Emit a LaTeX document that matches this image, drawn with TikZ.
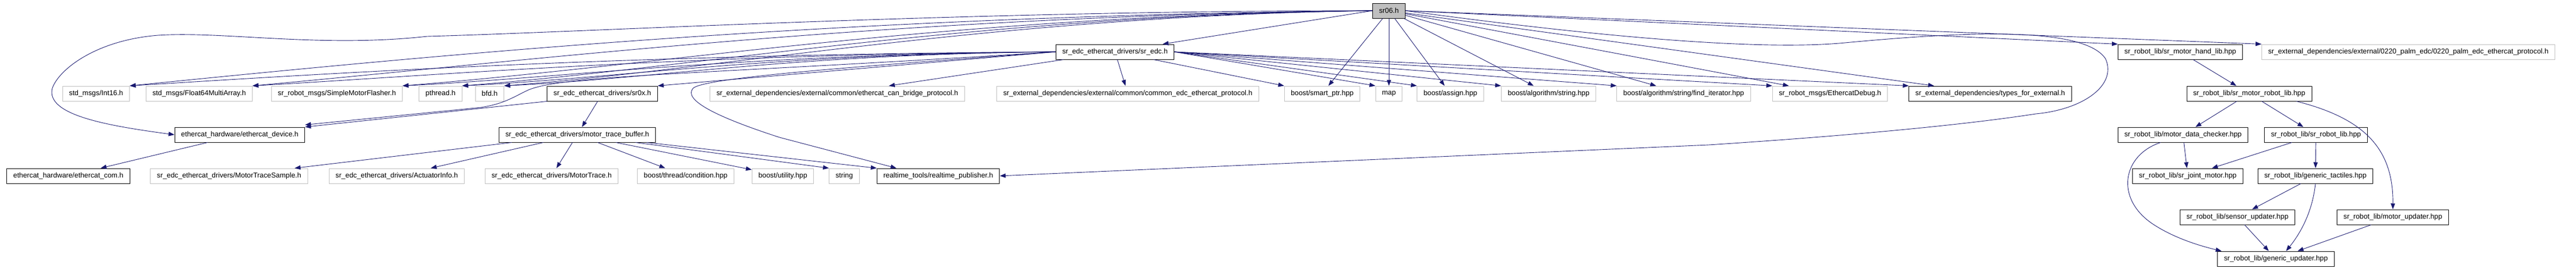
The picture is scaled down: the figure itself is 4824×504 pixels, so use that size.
\documentclass[tikz,border=0pt]{standalone}
\usepackage{fontspec}
\setmainfont{Liberation Sans}
\usetikzlibrary{arrows.meta, calc}
\definecolor{edgeblue}{HTML}{191970}
\definecolor{extgray}{HTML}{BFBFBF}
\tikzstyle{docfile} = [rectangle, draw=black, line width=1pt, fill=white, minimum height=28pt, inner xsep=12pt, inner ysep=0pt, font=\fontsize{13.3}{16}\selectfont]
\tikzstyle{extfile} = [docfile, draw=extgray]
\tikzstyle{rootfile} = [docfile, fill=extgray]
\tikzstyle{arrow} = [->, >={Triangle[length=11pt,width=8pt]}, draw=edgeblue, fill=none, line width=0.9pt]

\begin{document}
\begin{tikzpicture}[x=1pt, y=-1pt]
        \useasboundingbox (0,0) rectangle (4824,504);

        % rank 0 and 1
        \node (sr06) [rootfile] at (2601,20) {sr06.h};
        \node (sredc) [docfile] at (2088,97) {sr\_edc\_ethercat\_drivers/sr\_edc.h};
        \node (handlib) [docfile] at (4083,97) {sr\_robot\_lib/sr\_motor\_hand\_lib.hpp};
        \node (palmproto) [extfile] at (4510,97) {sr\_external\_dependencies/external/0220\_palm\_edc/0220\_palm\_edc\_ethercat\_protocol.h};

        % rank 2
        \node (int16) [extfile] at (180,175) {std\_msgs/Int16.h};
        \node (float64) [extfile] at (373,175) {std\_msgs/Float64MultiArray.h};
        \node (flasher) [extfile] at (631,175) {sr\_robot\_msgs/SimpleMotorFlasher.h};
        \node (pthread) [extfile] at (825,175) {pthread.h};
        \node (bfd) [extfile] at (917,175) {bfd.h};
        \node (srox) [docfile] at (1128,175) {sr\_edc\_ethercat\_drivers/sr0x.h};
        \node (canbridge) [extfile] at (1568,175) {sr\_external\_dependencies/external/common/ethercat\_can\_bridge\_protocol.h};
        \node (commonproto) [extfile] at (2112,175) {sr\_external\_dependencies/external/common/common\_edc\_ethercat\_protocol.h};
        \node (smartptr) [extfile] at (2476,175) {boost/smart\_ptr.hpp};
        \node (map) [extfile] at (2601,175) {map};
        \node (assign) [extfile] at (2716,175) {boost/assign.hpp};
        \node (algostring) [extfile] at (2900,175) {boost/algorithm/string.hpp};
        \node (finditer) [extfile] at (3153,175) {boost/algorithm/string/find\_iterator.hpp};
        \node (ecatdebug) [extfile] at (3427,175) {sr\_robot\_msgs/EthercatDebug.h};
        \node (typesext) [docfile] at (3727,175) {sr\_external\_dependencies/types\_for\_external.h};
        \node (robotlib) [docfile] at (4212,175) {sr\_robot\_lib/sr\_motor\_robot\_lib.hpp};

        % rank 3
        \node (ecatdevice) [docfile] at (449,252) {ethercat\_hardware/ethercat\_device.h};
        \node (tracebuffer) [docfile] at (1081,252) {sr\_edc\_ethercat\_drivers/motor\_trace\_buffer.h};
        \node (datachecker) [docfile] at (4088,252) {sr\_robot\_lib/motor\_data\_checker.hpp};
        \node (srrobotlib) [docfile] at (4337,252) {sr\_robot\_lib/sr\_robot\_lib.hpp};

        % rank 4
        \node (ecatcom) [docfile] at (128,329) {ethercat\_hardware/ethercat\_com.h};
        \node (tracesample) [extfile] at (429,329) {sr\_edc\_ethercat\_drivers/MotorTraceSample.h};
        \node (actuatorinfo) [extfile] at (743,329) {sr\_edc\_ethercat\_drivers/ActuatorInfo.h};
        \node (motortrace) [extfile] at (1033,329) {sr\_edc\_ethercat\_drivers/MotorTrace.h};
        \node (condition) [extfile] at (1284,329) {boost/thread/condition.hpp};
        \node (utility) [extfile] at (1466,329) {boost/utility.hpp};
        \node (string) [extfile] at (1581,329) {string};
        \node (rtpub) [docfile] at (1757,329) {realtime\_tools/realtime\_publisher.h};
        \node (jointmotor) [docfile] at (4097,329) {sr\_robot\_lib/sr\_joint\_motor.hpp};
        \node (tactiles) [docfile] at (4336,329) {sr\_robot\_lib/generic\_tactiles.hpp};

        % rank 5 and 6
        \node (sensorupd) [docfile] at (4190,406) {sr\_robot\_lib/sensor\_updater.hpp};
        \node (motorupd) [docfile] at (4481,406) {sr\_robot\_lib/motor\_updater.hpp};
        \node (genupd) [docfile] at (4262,484) {sr\_robot\_lib/generic\_updater.hpp};

        % sr06.h
        \draw [arrow] (sr06.west) -- ([xshift=-22pt]sredc.north east);
        \draw [arrow] (sr06.west) .. controls (1800,20) and (1100,60) .. (800,68) .. controls (600,90) and (420,58) .. (296,66) .. controls (180,75) and (110,130) .. (98,165) .. controls (85,215) and (200,235) .. (ecatdevice.west);
        \draw [arrow] (sr06.west) .. controls +(-1000,10) and +(600,-60) .. (int16.north east);
        \draw [arrow] (sr06.west) .. controls +(-900,10) and +(550,-50) .. (float64.north east);
        \draw [arrow] (sr06.west) .. controls +(-800,10) and +(500,-40) .. (flasher.north east);
        \draw [arrow] (sr06.west) .. controls +(-750,10) and +(450,-35) .. (pthread.north east);
        \draw [arrow] (sr06.west) .. controls +(-700,10) and +(400,-30) .. (bfd.north east);
        \draw [arrow] (sr06) -- (smartptr);
        \draw [arrow] (sr06) -- (map);
        \draw [arrow] (sr06) -- (assign);
        \draw [arrow] (sr06) -- (algostring);
        \draw [arrow] (sr06) -- (finditer);
        \draw [arrow] (sr06) -- (ecatdebug);
        \draw [arrow] (sr06) -- (typesext);
        \draw [arrow] (sr06.east) -- (handlib.north west);
        \draw [arrow] (sr06.east) -- (palmproto.north west);
        \draw [arrow] (sr06.east) .. controls (3000,70) and (3300,95) .. (3455,80) .. controls (3650,62) and (3900,45) .. (3943,110) .. controls (3965,160) and (3900,205) .. (3812,213) .. controls (3650,238) and (3400,258) .. (3200,271) -- (rtpub.east);

        % sr_edc.h
        \draw [arrow] (sredc.west) .. controls +(-800,5) and +(400,-25) .. (int16.north east);
        \draw [arrow] (sredc.west) .. controls +(-700,5) and +(350,-20) .. (float64.north east);
        \draw [arrow] (sredc.west) .. controls +(-600,5) and +(300,-15) .. (flasher.north east);
        \draw [arrow] (sredc.west) .. controls +(-550,5) and +(300,-15) .. (pthread.north east);
        \draw [arrow] (sredc.west) .. controls +(-500,5) and +(300,-15) .. (bfd.north east);
        \draw [arrow] (sredc.west) .. controls (1300,140) and (1060,140) .. (990,168) .. controls (960,182) and (945,194) .. (900,201) -- ([yshift=4pt]ecatdevice.north east);
        \draw [arrow] (sredc.west) -- (srox.north east);
        \draw [arrow] (sredc.west) .. controls (1600,125) and (1320,145) .. (1298,165) .. controls (1280,185) and (1330,215) .. (1460,257) -- ([xshift=37pt]rtpub.north west);
        \draw [arrow] (sredc) -- (canbridge);
        \draw [arrow] (sredc) -- (commonproto);
        \draw [arrow] (sredc) -- (smartptr.north west);
        \draw [arrow] (sredc.east) -- (map.north west);
        \draw [arrow] (sredc.east) -- (assign.north west);
        \draw [arrow] (sredc.east) -- (algostring.north west);
        \draw [arrow] (sredc.east) -- (finditer.north west);
        \draw [arrow] (sredc.east) -- (ecatdebug.north west);
        \draw [arrow] (sredc.east) -- (typesext.north west);

        % drivers
        \draw [arrow] (srox.south west) -- (ecatdevice.north east);
        \draw [arrow] (srox) -- (tracebuffer);
        \draw [arrow] (ecatdevice) -- (ecatcom);
        \draw [arrow] (tracebuffer) -- (tracesample);
        \draw [arrow] (tracebuffer) -- (actuatorinfo);
        \draw [arrow] (tracebuffer) -- (motortrace);
        \draw [arrow] (tracebuffer) -- (condition);
        \draw [arrow] (tracebuffer) -- (utility);
        \draw [arrow] (tracebuffer) -- (string.north west);
        \draw [arrow] (tracebuffer) -- (rtpub.north west);

        % sr_robot_lib
        \draw [arrow] (handlib) -- (robotlib);
        \draw [arrow] (robotlib) -- (datachecker);
        \draw [arrow] (robotlib) -- (srrobotlib);
        \draw [arrow] ([xshift=-29pt]robotlib.south east) .. controls (4430,222) and (4482,280) .. (motorupd.north);
        \draw [arrow] (datachecker) -- (jointmotor);
        \draw [arrow] ([xshift=-42pt]datachecker.south) .. controls (3975,290) and (3960,370) .. (4030,418) .. controls (4070,445) and (4120,460) .. ([xshift=8pt]genupd.north west);
        \draw [arrow] (srrobotlib) -- (jointmotor);
        \draw [arrow] (srrobotlib) -- (tactiles);
        \draw [arrow] (tactiles) -- (sensorupd);
        \draw [arrow] (tactiles.south) .. controls (4330,400) and (4305,440) .. ([xshift=19pt]genupd.north);
        \draw [arrow] (sensorupd) -- (genupd);
        \draw [arrow] (motorupd) -- (genupd);

    \end{tikzpicture}
\end{document}
